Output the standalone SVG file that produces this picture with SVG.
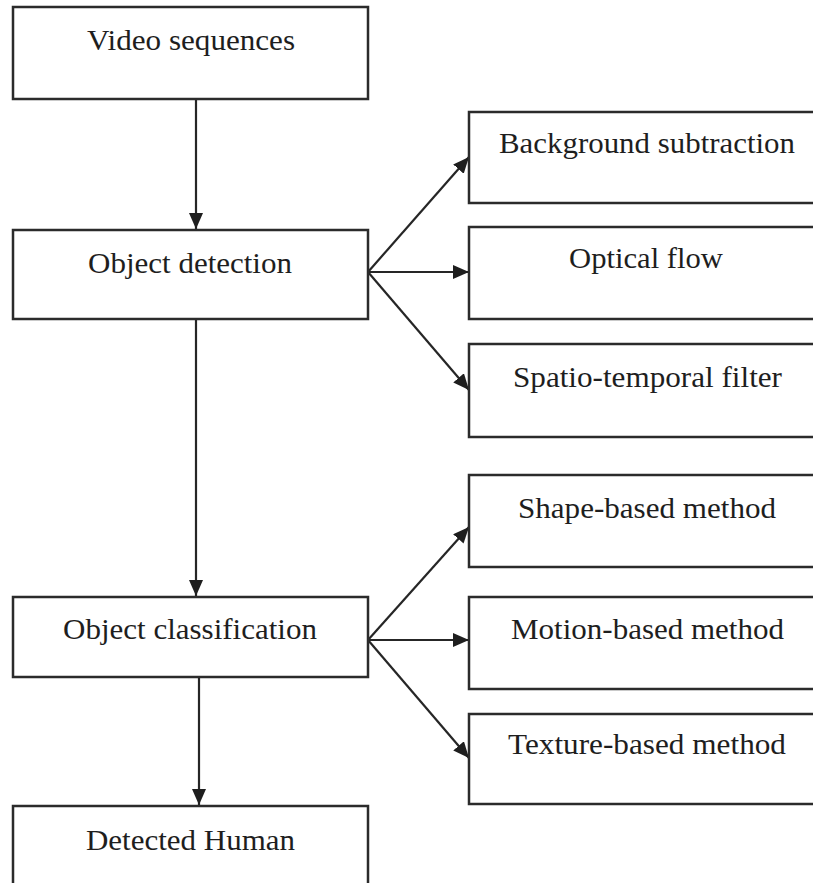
<svg xmlns="http://www.w3.org/2000/svg" width="813" height="883" viewBox="0 0 813 883">
<style>
.box{fill:#fff;stroke:#2b2b2b;stroke-width:2.5}
.lbl{font-family:"Liberation Serif","Times New Roman",serif;font-size:29.5px;fill:#1e1e1e}
.edge{stroke:#262626;stroke-width:2.2;fill:none}
</style>
<defs>
<marker id="ah" markerUnits="userSpaceOnUse" markerWidth="18" markerHeight="16" refX="16" refY="7" orient="auto">
<path d="M0,0 L16,7 L0,14 Z" fill="#1e1e1e"/>
</marker>
</defs>
<rect width="813" height="883" fill="#fff"/>
<g id="connectors">
<line class="edge" x1="196" y1="99" x2="196" y2="229" marker-end="url(#ah)"/>
<line class="edge" x1="196" y1="319" x2="196" y2="596" marker-end="url(#ah)"/>
<line class="edge" x1="199" y1="677" x2="199" y2="805" marker-end="url(#ah)"/>
<line class="edge" x1="368" y1="272" x2="469" y2="157" marker-end="url(#ah)"/>
<line class="edge" x1="368" y1="272" x2="469" y2="272" marker-end="url(#ah)"/>
<line class="edge" x1="368" y1="272" x2="469" y2="390" marker-end="url(#ah)"/>
<line class="edge" x1="368" y1="640" x2="469" y2="527" marker-end="url(#ah)"/>
<line class="edge" x1="368" y1="640" x2="469" y2="640" marker-end="url(#ah)"/>
<line class="edge" x1="368" y1="640" x2="469" y2="758" marker-end="url(#ah)"/>
</g>
<g id="video"><rect class="box" x="13" y="7" width="355" height="92"/><text class="lbl" x="87" y="50" textLength="208" lengthAdjust="spacingAndGlyphs">Video sequences</text></g>
<g id="detection"><rect class="box" x="13" y="230" width="355" height="89"/><text class="lbl" x="88" y="273" textLength="204" lengthAdjust="spacingAndGlyphs">Object detection</text></g>
<g id="classification"><rect class="box" x="13" y="597" width="355" height="80"/><text class="lbl" x="63" y="639" textLength="254" lengthAdjust="spacingAndGlyphs">Object classification</text></g>
<g id="human"><rect class="box" x="13" y="806" width="355" height="95"/><text class="lbl" x="86" y="850" textLength="209" lengthAdjust="spacingAndGlyphs">Detected Human</text></g>
<g id="background"><rect class="box" x="469" y="112" width="360" height="91"/><text class="lbl" x="499" y="153" textLength="296" lengthAdjust="spacingAndGlyphs">Background subtraction</text></g>
<g id="optical"><rect class="box" x="469" y="227" width="360" height="92"/><text class="lbl" x="569" y="268" textLength="154" lengthAdjust="spacingAndGlyphs">Optical flow</text></g>
<g id="spatio"><rect class="box" x="469" y="344" width="360" height="93"/><text class="lbl" x="513" y="387" textLength="269" lengthAdjust="spacingAndGlyphs">Spatio-temporal filter</text></g>
<g id="shape"><rect class="box" x="469" y="475" width="360" height="92"/><text class="lbl" x="518" y="518" textLength="258" lengthAdjust="spacingAndGlyphs">Shape-based method</text></g>
<g id="motion"><rect class="box" x="469" y="597" width="360" height="92"/><text class="lbl" x="511" y="639" textLength="273" lengthAdjust="spacingAndGlyphs">Motion-based method</text></g>
<g id="texture"><rect class="box" x="469" y="714" width="360" height="90"/><text class="lbl" x="508" y="754" textLength="278" lengthAdjust="spacingAndGlyphs">Texture-based method</text></g>
</svg>
